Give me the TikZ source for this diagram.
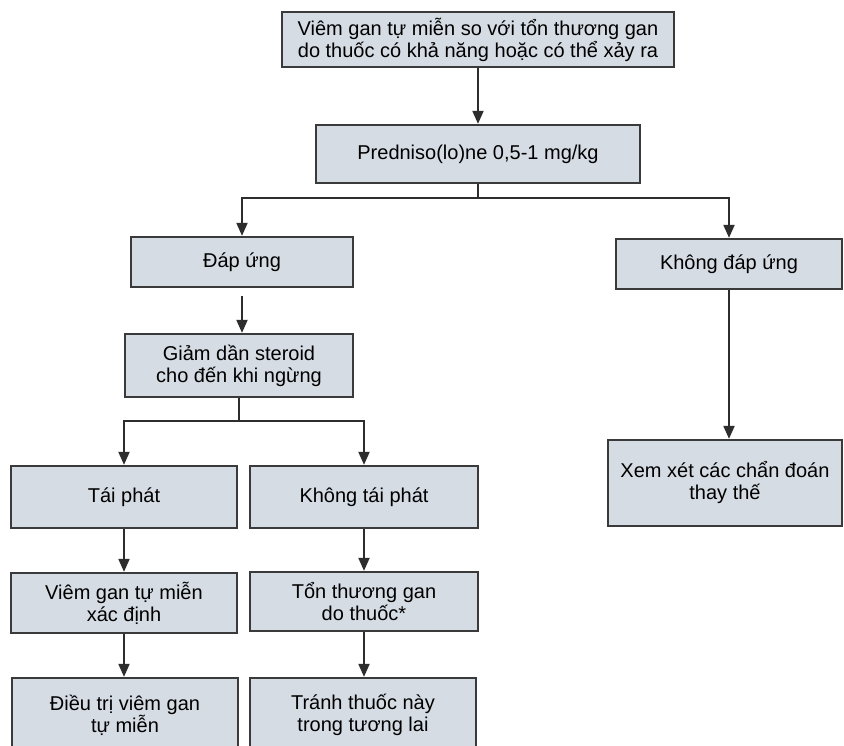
\documentclass[tikz,border=0pt]{standalone}
\usepackage{fontspec}
\setmainfont{Liberation Sans}
\usetikzlibrary{arrows.meta}
\definecolor{boxfill}{RGB}{214,220,228}
\definecolor{boxline}{RGB}{58,58,58}
\definecolor{arrcol}{RGB}{45,45,45}
\begin{document}
\begin{tikzpicture}[x=1pt,y=-1pt,
  box/.style={draw=boxline, fill=boxfill, line width=2.3pt, inner sep=0pt, align=center,
              font=\fontsize{20}{22}\selectfont},
  conn/.style={draw=arrcol, line width=2pt},
  arr/.style={conn, -{Triangle[length=13pt,width=11pt]}}]
\useasboundingbox (0,0) rectangle (844,746);
\clip (0,0) rectangle (844,746);
\fill[white] (0,0) rectangle (844,746);

\node[box, minimum width=392pt, minimum height=55pt] (top) at (478,39.5)
  {Viêm gan tự miễn so với tổn thương gan\\do thuốc có khả năng hoặc có thể xảy ra};
\node[box, minimum width=324pt, minimum height=58pt] (pred) at (478,154)
  {Predniso(lo)ne 0,5-1 mg/kg};
\node[box, minimum width=222pt, minimum height=50pt] (dap) at (242,262) {Đáp ứng};
\node[box, minimum width=228pt, minimum height=63pt] (giam) at (239,365.5)
  {Giảm dần steroid\\cho đến khi ngừng};
\node[box, minimum width=226pt, minimum height=50pt] (kdap) at (729,264) {Không đáp ứng};
\node[box, minimum width=234pt, minimum height=86pt] (xem) at (725,483)
  {Xem xét các chẩn đoán\\thay thế};
\node[box, minimum width=226pt, minimum height=62pt] (tai) at (124,497) {Tái phát};
\node[box, minimum width=228pt, minimum height=62pt] (ktai) at (364,497) {Không tái phát};
\node[box, minimum width=226pt, minimum height=60pt] (viem) at (124,603)
  {Viêm gan tự miễn\\xác định};
\node[box, minimum width=228pt, minimum height=59pt] (ton) at (364,601.5)
  {Tổn thương gan\\do thuốc*};
\node[box, minimum width=226pt, minimum height=74pt] (dieu) at (125,715)
  {Điều trị viêm gan\\tự miễn};
\node[box, minimum width=226pt, minimum height=74pt] (tranh) at (363,715)
  {Tránh thuốc này\\trong tương lai};

\coordinate (s1) at (478,198);
\coordinate (s2) at (239,421);

\draw[arr] (top.south) -- (pred.north);
\draw[conn] (pred.south) -- (s1);
\draw[arr] (s1) -| (dap.north);
\draw[arr] (s1) -| (kdap.north);
\draw[arr, shorten <=8pt] (dap.south) -- (dap.south |- giam.north);
\draw[conn] (giam.south) -- (s2);
\draw[arr] (s2) -| (tai.north);
\draw[arr] (s2) -| (ktai.north);
\draw[arr] (tai.south) -- (viem.north);
\draw[arr] (viem.south) -- (viem.south |- dieu.north);
\draw[arr] (ktai.south) -- (ton.north);
\draw[arr] (ton.south) -- (ton.south |- tranh.north);
\draw[arr] (kdap.south) -- (kdap.south |- xem.north);
\end{tikzpicture}
\end{document}
